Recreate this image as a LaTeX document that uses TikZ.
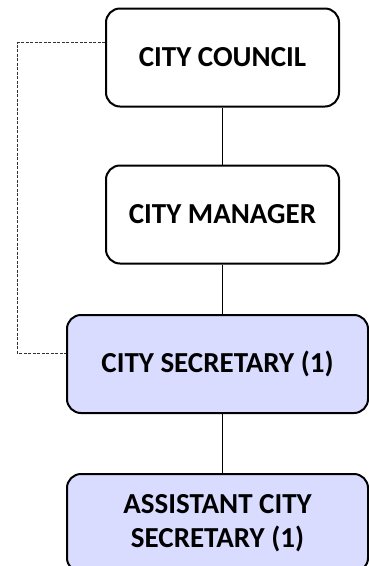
\documentclass[tikz,border=0pt]{standalone}
\usepackage{fontspec}
\setmainfont{Carlito}
\definecolor{lavande}{RGB}{218,220,255}
\begin{document}
\begin{tikzpicture}[x=1pt,y=1pt]
		% Styles
		\tikzstyle{boite}=[draw,line width=2pt,rounded corners=14pt,align=center,inner sep=0pt,font=\bfseries\fontsize{29}{34}\selectfont]
		\tikzstyle{haut}=[boite,fill=white,minimum width=233pt,minimum height=98pt]
		\tikzstyle{bas}=[boite,fill=lavande,minimum width=301pt,minimum height=98pt]
		\tikzstyle{trait}=[-,line width=1.5pt]
		\tikzstyle{pointille}=[-,line width=1pt,black!80,dash pattern=on 3pt off 1.5pt]
		% Cadre
		\useasboundingbox (0,0) rectangle (369,-566);
		% Noeuds
		\node[haut] (conseil) at (222.5,-57.5) {CITY COUNCIL};
		\node[haut] (directeur) at (222.5,-214.5) {CITY MANAGER};
		\node[bas] (secretaire) at (217.5,-364) {CITY SECRETARY (1)};
		\node[bas] (adjoint) at (217.5,-523) {ASSISTANT CITY\\SECRETARY (1)};
		% Liens
		\draw[trait] (conseil.south) -- (directeur.north);
		\draw[trait] (directeur.south) -- (directeur.south |- secretaire.north);
		\draw[trait] (directeur.south |- secretaire.south) -- (directeur.south |- adjoint.north);
		\draw[pointille] ([yshift=15pt]conseil.west) -- ++(-88,0) |- ([yshift=11pt]secretaire.west);
\end{tikzpicture}
\end{document}
